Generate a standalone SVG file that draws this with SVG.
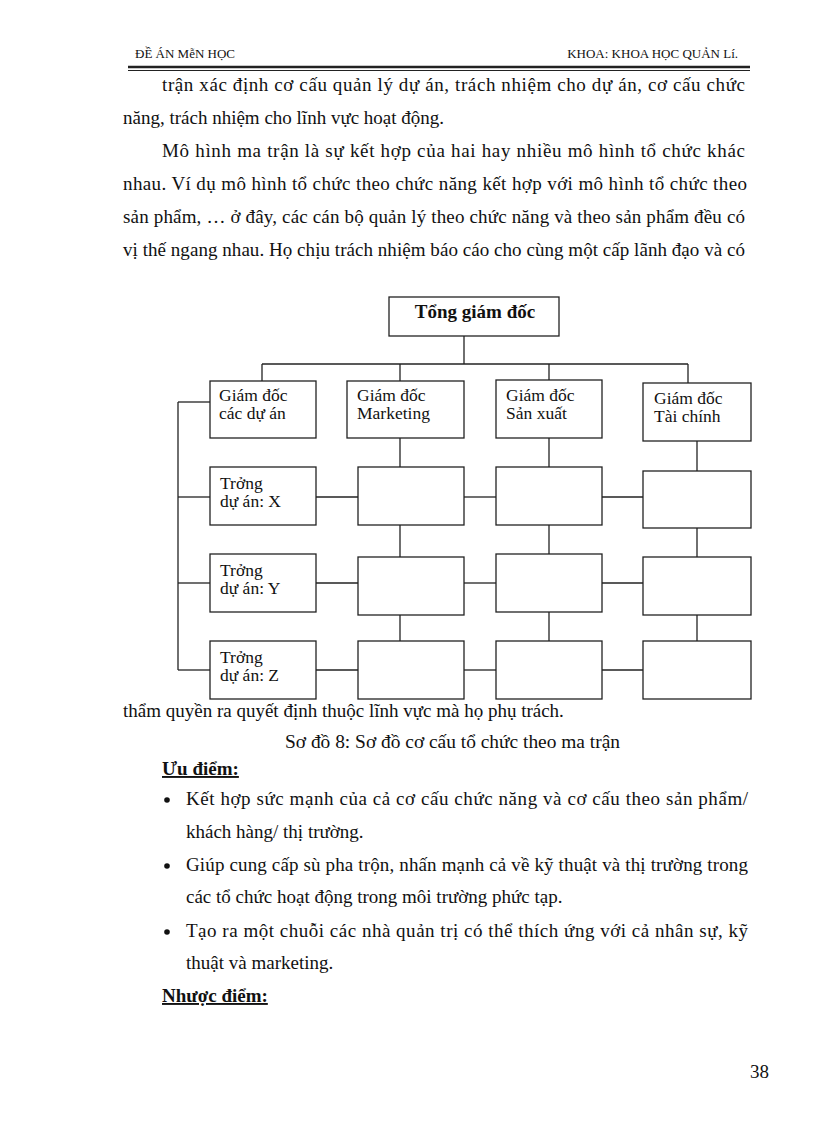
<svg xmlns="http://www.w3.org/2000/svg" width="816" height="1123" viewBox="0 0 816 1123">
<style>
  .t { font-family: "Liberation Serif", "Times New Roman", serif; fill: #111; }
  .body { font-size: 19px; }
  .hdr { font-size: 13px; }
  .nt { font-size: 17.5px; }
  .box { fill: #fff; stroke: #222; stroke-width: 1.3; }
  .ln { stroke: #222; stroke-width: 1.3; fill: none; }
</style>
<rect x="0" y="0" width="816" height="1123" fill="#fff"/>

<!-- header -->
<text class="t hdr" x="135" y="58">ĐỀ ÁN MễN HỌC</text>
<text class="t hdr" x="738" y="58" text-anchor="end">KHOA: KHOA HỌC QUẢN Lí.</text>
<line x1="128" y1="67" x2="750" y2="67" stroke="#222" stroke-width="2.5"/>
<line x1="128" y1="70.5" x2="750" y2="70.5" stroke="#222" stroke-width="1"/>

<!-- paragraph text -->
<text class="t body" x="162" y="91" textLength="583" lengthAdjust="spacing">trận xác định cơ cấu quản lý dự án, trách nhiệm cho dự án, cơ cấu chức</text>
<text class="t body" x="123" y="124">năng, trách nhiệm cho lĩnh vực hoạt động.</text>
<text class="t body" x="162" y="157" textLength="583" lengthAdjust="spacing">Mô hình ma trận là sự kết hợp của hai hay nhiều mô hình tổ chức khác</text>
<text class="t body" x="123" y="190" textLength="624" lengthAdjust="spacing">nhau. Ví dụ mô hình tổ chức theo chức năng kết hợp với mô hình tổ chức theo</text>
<text class="t body" x="123" y="223" textLength="622" lengthAdjust="spacing">sản phẩm, … ở đây, các cán bộ quản lý theo chức năng và theo sản phẩm đều có</text>
<text class="t body" x="123" y="256" textLength="622" lengthAdjust="spacing">vị thế ngang nhau. Họ chịu trách nhiệm báo cáo cho cùng một cấp lãnh đạo và có</text>

<!-- connectors -->
<g id="connectors" class="ln">
  <line x1="464" y1="336" x2="464" y2="364"/>
  <line x1="262" y1="364" x2="688" y2="364"/>
  <line x1="262" y1="364" x2="262" y2="381"/>
  <line x1="400" y1="364" x2="400" y2="381"/>
  <line x1="549" y1="364" x2="549" y2="380"/>
  <line x1="688" y1="364" x2="688" y2="383"/>
  <line x1="178" y1="402" x2="210" y2="402"/>
  <line x1="178" y1="402" x2="178" y2="670"/>
  <line x1="400" y1="438" x2="400" y2="467"/>
  <line x1="400" y1="525" x2="400" y2="557"/>
  <line x1="400" y1="615" x2="400" y2="641"/>
  <line x1="549" y1="438" x2="549" y2="467"/>
  <line x1="549" y1="525" x2="549" y2="554"/>
  <line x1="549" y1="612" x2="549" y2="641"/>
  <line x1="697" y1="441" x2="697" y2="471"/>
  <line x1="697" y1="528" x2="697" y2="557"/>
  <line x1="697" y1="615" x2="697" y2="641"/>
  <line x1="178" y1="497" x2="210" y2="497"/>
  <line x1="316" y1="497" x2="358" y2="497"/>
  <line x1="464" y1="497" x2="496" y2="497"/>
  <line x1="602" y1="497" x2="643" y2="497"/>
  <line x1="178" y1="583" x2="210" y2="583"/>
  <line x1="316" y1="583" x2="358" y2="583"/>
  <line x1="464" y1="583" x2="496" y2="583"/>
  <line x1="602" y1="583" x2="643" y2="583"/>
  <line x1="178" y1="670" x2="210" y2="670"/>
  <line x1="316" y1="670" x2="358" y2="670"/>
  <line x1="464" y1="670" x2="496" y2="670"/>
  <line x1="602" y1="670" x2="643" y2="670"/>
</g>

<!-- nodes -->
<g id="tong-giam-doc">
  <rect class="box" x="389" y="297" width="170" height="39"/>
  <text class="t" x="475" y="318" font-size="19" font-weight="bold" text-anchor="middle">Tổng giám đốc</text>
</g>
<g id="gd-du-an">
  <rect class="box" x="210" y="381" width="106" height="57"/>
  <text class="t nt" x="219" y="401">Giám đốc</text>
  <text class="t nt" x="219" y="419">các dự án</text>
</g>
<g id="gd-marketing">
  <rect class="box" x="347" y="381" width="117" height="57"/>
  <text class="t nt" x="357" y="401">Giám đốc</text>
  <text class="t nt" x="357" y="419">Marketing</text>
</g>
<g id="gd-san-xuat">
  <rect class="box" x="496" y="380" width="106" height="58"/>
  <text class="t nt" x="506" y="401">Giám đốc</text>
  <text class="t nt" x="506" y="419">Sản xuất</text>
</g>
<g id="gd-tai-chinh">
  <rect class="box" x="643" y="383" width="108" height="58"/>
  <text class="t nt" x="654" y="404">Giám đốc</text>
  <text class="t nt" x="654" y="422">Tài chính</text>
</g>

<g id="truong-x">
  <rect class="box" x="210" y="467" width="106" height="58"/>
  <text class="t nt" x="220" y="489">Trởng</text>
  <text class="t nt" x="220" y="507">dự án: X</text>
</g>
<g id="truong-y">
  <rect class="box" x="210" y="554" width="106" height="58"/>
  <text class="t nt" x="220" y="576">Trởng</text>
  <text class="t nt" x="220" y="594">dự án: Y</text>
</g>
<g id="truong-z">
  <rect class="box" x="210" y="641" width="106" height="58"/>
  <text class="t nt" x="220" y="663">Trởng</text>
  <text class="t nt" x="220" y="681">dự án: Z</text>
</g>

<g id="mkt-x"><rect class="box" x="358" y="467" width="106" height="58"/></g>
<g id="mkt-y"><rect class="box" x="358" y="557" width="106" height="58"/></g>
<g id="mkt-z"><rect class="box" x="358" y="641" width="106" height="58"/></g>
<g id="sx-x"><rect class="box" x="496" y="467" width="106" height="58"/></g>
<g id="sx-y"><rect class="box" x="496" y="554" width="106" height="58"/></g>
<g id="sx-z"><rect class="box" x="496" y="641" width="106" height="58"/></g>
<g id="tc-x"><rect class="box" x="643" y="471" width="108" height="57"/></g>
<g id="tc-y"><rect class="box" x="643" y="557" width="108" height="58"/></g>
<g id="tc-z"><rect class="box" x="643" y="641" width="108" height="58"/></g>

<!-- text after diagram -->
<text class="t body" x="123" y="717">thẩm quyền ra quyết định thuộc lĩnh vực mà họ phụ trách.</text>
<text class="t body" x="285" y="748" textLength="335" lengthAdjust="spacingAndGlyphs">Sơ đồ 8: Sơ đồ cơ cấu tổ chức theo ma trận</text>
<text class="t body" x="162" y="775" font-weight="bold" text-decoration="underline">Ưu điểm:</text>

<circle cx="167" cy="800" r="2.8" fill="#111"/>
<text class="t body" x="186" y="805" textLength="562" lengthAdjust="spacing">Kết hợp sức mạnh của cả cơ cấu chức năng và cơ cấu theo sản phẩm/</text>
<text class="t body" x="186" y="838">khách hàng/ thị trường.</text>
<circle cx="167" cy="866" r="2.8" fill="#111"/>
<text class="t body" x="186" y="871" textLength="562" lengthAdjust="spacing">Giúp cung cấp sù pha trộn, nhấn mạnh cả về kỹ thuật và thị trường trong</text>
<text class="t body" x="186" y="903">các tổ chức hoạt động trong môi trường phức tạp.</text>
<circle cx="167" cy="932" r="2.8" fill="#111"/>
<text class="t body" x="186" y="937" textLength="562" lengthAdjust="spacing">Tạo ra một chuỗi các nhà quản trị có thể thích ứng với cả nhân sự, kỹ</text>
<text class="t body" x="186" y="969">thuật và marketing.</text>
<text class="t body" x="162" y="1002" font-weight="bold" text-decoration="underline">Nhược điểm:</text>

<text class="t body" x="750" y="1078">38</text>
</svg>
